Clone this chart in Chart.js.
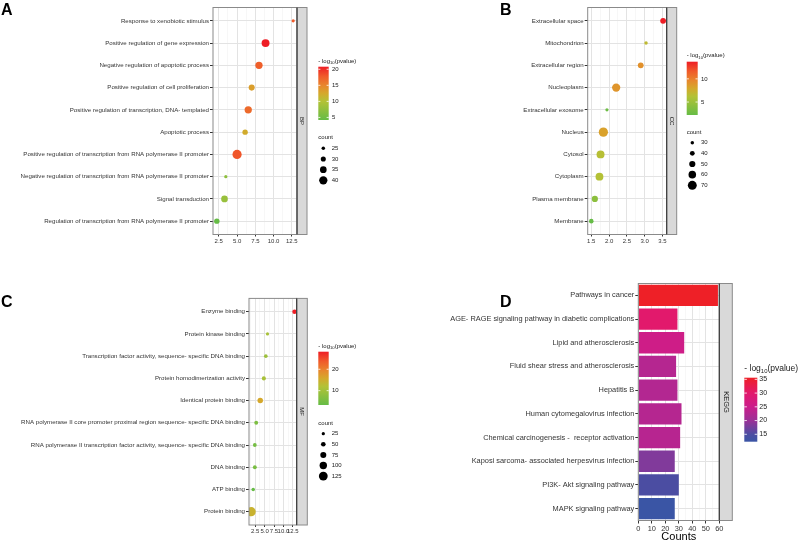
<!DOCTYPE html>
<html>
<head>
<meta charset="utf-8">
<script src="https://cdn.jsdelivr.net/npm/chart.js@4.4.1/dist/chart.umd.min.js"></script>
<style>
html, body { margin: 0; padding: 0; background: #fff; }
#wrap { position: relative; width: 800px; height: 541px; }
canvas { position: absolute; }
</style>
</head>
<body>
<div id="wrap">
  <canvas id="cA" width="400" height="270" style="left:0;top:0"></canvas>
  <canvas id="cB" width="400" height="270" style="left:400px;top:0"></canvas>
  <canvas id="cC" width="400" height="271" style="left:0;top:270px"></canvas>
  <canvas id="cD" width="400" height="271" style="left:400px;top:270px"></canvas>
</div>
<script>
// ============================================
// Data
// ============================================
// A - GO biological process
const bpTerms = [
    'Response to xenobiotic stimulus',
    'Positive regulation of gene expression',
    'Negative regulation of apoptotic process',
    'Positive regulation of cell proliferation',
    'Positive regulation of transcription, DNA- templated',
    'Apoptotic process',
    'Positive regulation of transcription from RNA polymerase II promoter',
    'Negative regulation of transcription from RNA polymerase II promoter',
    'Signal transduction',
    'Regulation of transcription from RNA polymerase II promoter'
];
const bpValue = [12.68, 8.9, 8.0, 7.0, 6.53, 6.1, 5.0, 3.46, 3.28, 2.23];
const bpLogP = [17.8, 20.8, 17.5, 13.2, 16.8, 12.2, 18.0, 7.2, 8.0, 4.2];
const bpCount = [24, 39, 37, 33, 37, 31, 43, 24, 35, 31];
const bpXTicks = [2.5, 5, 7.5, 10, 12.5];
const bpColourBreaks = [5, 10, 15, 20];
const bpCountBreaks = [25, 30, 35, 40];

// B - GO cellular component
const ccTerms = [
    'Extracellular space', 'Mitochondrion', 'Extracellular region', 'Nucleoplasm',
    'Extracellular exosome', 'Nucleus', 'Cytosol', 'Cytoplasm', 'Plasma membrane', 'Membrane'
];
const ccValue = [3.52, 3.04, 2.89, 2.2, 1.94, 1.84, 1.76, 1.73, 1.6, 1.5];
const ccLogP = [13.7, 6.8, 9.1, 8.9, 2.55, 8.3, 6.45, 6.3, 4.2, 2.2];
const ccCount = [47, 30, 47, 65, 28, 72, 63, 62, 50, 38];
const ccXTicks = [1.5, 2.0, 2.5, 3.0, 3.5];
const ccColourBreaks = [5, 10];
const ccCountBreaks = [30, 40, 50, 60, 70];

// C - GO molecular function
const mfTerms = [
    'Enzyme binding',
    'Protein kinase binding',
    'Transcription factor activity, sequence- specific DNA binding',
    'Protein homodimerization activity',
    'Identical protein binding',
    'RNA polymerase II core promoter proximal region sequence- specific DNA binding',
    'RNA polymerase II transcription factor activity, sequence- specific DNA binding',
    'DNA binding',
    'ATP binding',
    'Protein binding'
];
const mfValue = [12.95, 5.77, 5.33, 4.8, 3.84, 2.77, 2.4, 2.4, 1.97, 1.43];
const mfLogP = [28.2, 10.8, 9.5, 10.8, 15.8, 5.8, 5.0, 5.3, 3.3, 14.3];
const mfCount = [47, 24, 32, 40, 65, 36, 35, 36, 30, 132];
const mfXTicks = [2.5, 5, 7.5, 10, 12.5];
const mfColourBreaks = [10, 20];
const mfCountBreaks = [25, 50, 75, 100, 125];

// D - KEGG pathways
const keggTerms = [
    'Pathways in cancer',
    'AGE- RAGE signaling pathway in diabetic complications',
    'Lipid and atherosclerosis',
    'Fluid shear stress and atherosclerosis',
    'Hepatitis B',
    'Human cytomegalovirus infection',
    'Chemical carcinogenesis -  receptor activation',
    'Kaposi sarcoma- associated herpesvirus infection',
    'PI3K- Akt signaling pathway',
    'MAPK signaling pathway'
];
const keggCount = [59, 29, 34, 28, 29, 32, 31, 27, 30, 27];
const keggLogP = [35.6, 30.0, 25.6, 22.8, 22.5, 22.8, 23.0, 18.4, 14.9, 12.3];
const keggXTicks = [0, 10, 20, 30, 40, 50, 60];
const keggColourBreaks = [15, 20, 25, 30, 35];

// ============================================
// Scales
// ============================================
const FONT = '"Liberation Sans", Arial, Helvetica, sans-serif';
const AXIS_TEXT = '#333333';
const LEGEND_TEXT = '#1a1a1a';

const greenRedStops = [[0, '#66bc46'], [0.35, '#b3c236'], [0.5, '#d5a82b'], [0.65, '#e8862d'], [0.82, '#f05a2a'], [1, '#ee1d25']];
const blueRedStops = [[0, '#3a55a5'], [0.116, '#4c4da2'], [0.33, '#9a3197'], [0.545, '#cb1d8b'], [0.76, '#e2196c'], [1, '#ee2027']];

function hexToRgb(h) {
    return [1, 3, 5].map(i => parseInt(h.substr(i, 2), 16));
}

function rampColour(stops, t) {
    t = Math.max(0, Math.min(1, t));
    for (let i = 1; i < stops.length; i++) {
        if (t <= stops[i][0]) {
            const a = hexToRgb(stops[i - 1][1]), b = hexToRgb(stops[i][1]);
            const f = (t - stops[i - 1][0]) / (stops[i][0] - stops[i - 1][0]);
            return 'rgb(' + a.map((v, k) => Math.round(v + (b[k] - v) * f)).join(',') + ')';
        }
    }
    return stops[stops.length - 1][1];
}

function extent(arr) {
    return [Math.min(...arr), Math.max(...arr)];
}

function sizeRadius(v, lim) {
    return 1.6 + 3.0 * Math.max(0, (v - lim[0]) / (lim[1] - lim[0]));
}

// major ticks plus the minor lines half way between them
function gridValues(ticks, step, lo, hi) {
    const out = [];
    for (let v = ticks[0] - step / 2; v <= hi + 1e-9; v += step / 2) {
        if (v >= lo - 1e-9) out.push(+v.toFixed(4));
    }
    return out;
}

// ============================================
// Drawing helpers
// ============================================
function drawLogTitle(c, x, y, size) {
    c.fillStyle = LEGEND_TEXT;
    c.textAlign = 'left';
    c.textBaseline = 'alphabetic';
    c.font = size + 'px ' + FONT;
    c.fillText('- log', x, y);
    let w = c.measureText('- log').width;
    c.font = (size * 0.7) + 'px ' + FONT;
    c.fillText('10', x + w, y + size * 0.25);
    w += c.measureText('10').width;
    c.font = size + 'px ' + FONT;
    c.fillText('(pvalue)', x + w, y);
}

function drawColourbar(c, lg, stops, lim, breaks) {
    const g = c.createLinearGradient(0, lg.y + lg.h, 0, lg.y);
    stops.forEach(s => g.addColorStop(s[0], s[1]));
    c.fillStyle = g;
    c.fillRect(lg.x, lg.y, lg.w, lg.h);
    drawLogTitle(c, lg.x, lg.titleY, lg.titleSize);

    c.font = lg.labelSize + 'px ' + FONT;
    c.textAlign = 'left';
    c.textBaseline = 'middle';
    breaks.forEach(b => {
        const y = lg.y + lg.h - (b - lim[0]) / (lim[1] - lim[0]) * lg.h;
        c.strokeStyle = '#ffffff';
        c.lineWidth = 0.8;
        c.beginPath();
        c.moveTo(lg.x, y); c.lineTo(lg.x + lg.w * 0.2, y);
        c.moveTo(lg.x + lg.w * 0.8, y); c.lineTo(lg.x + lg.w, y);
        c.stroke();
        c.fillStyle = LEGEND_TEXT;
        c.fillText(String(b), lg.labelX, y);
    });
}

function drawSizeLegend(c, lg, lim, breaks) {
    c.fillStyle = LEGEND_TEXT;
    c.font = lg.labelSize + 'px ' + FONT;
    c.textAlign = 'left';
    c.textBaseline = 'alphabetic';
    c.fillText('count', lg.titleX, lg.titleY);
    c.textBaseline = 'middle';
    breaks.forEach((b, i) => {
        const y = lg.y0 + i * lg.dy;
        c.fillStyle = '#000000';
        c.beginPath();
        c.arc(lg.dotX, y, sizeRadius(b, lim), 0, Math.PI * 2);
        c.fill();
        c.fillStyle = LEGEND_TEXT;
        c.fillText(String(b), lg.labelX, y);
    });
}

function drawFrame(c, a, p) {
    // facet strip
    c.fillStyle = '#d9d9d9';
    c.fillRect(a.right, a.top, p.stripW, a.bottom - a.top);
    c.strokeStyle = '#8a8a8a';
    c.lineWidth = 1;
    c.strokeRect(a.right, a.top, p.stripW, a.bottom - a.top);
    // panel border
    c.strokeRect(a.left, a.top, a.right - a.left, a.bottom - a.top);
    c.strokeStyle = '#333333';
    c.beginPath();
    c.moveTo(a.right, a.top);
    c.lineTo(a.right, a.bottom);
    c.stroke();

    c.save();
    c.translate(a.right + p.stripW / 2, (a.top + a.bottom) / 2);
    c.rotate(Math.PI / 2);
    c.fillStyle = '#1a1a1a';
    c.font = p.stripSize + 'px ' + FONT;
    c.textAlign = 'center';
    c.textBaseline = 'middle';
    c.fillText(p.strip, 0, 0);
    c.restore();

    c.fillStyle = '#000000';
    c.font = 'bold 16px ' + FONT;
    c.textAlign = 'left';
    c.textBaseline = 'alphabetic';
    c.fillText(p.letter, p.letterX, p.letterY);
}

function xScale(ticks, step, lo, hi, fmt, fontSize, tickLen, height) {
    const isMajor = v => ticks.some(t => Math.abs(t - v) < 1e-6);
    const vals = gridValues(ticks, step, lo, hi);
    return {
        type: 'linear',
        min: lo,
        max: hi,
        afterBuildTicks: s => { s.ticks = vals.map(v => ({ value: v })); },
        afterFit: s => { s.height = height; },
        ticks: {
            autoSkip: false, maxRotation: 0, minRotation: 0, padding: 1,
            font: { family: FONT, size: fontSize }, color: AXIS_TEXT,
            callback: v => isMajor(v) ? fmt(v) : ''
        },
        grid: {
            color: ctx => (ctx.tick && !isMajor(ctx.tick.value)) ? '#f2f2f2' : '#e3e3e3',
            lineWidth: ctx => (ctx.tick && !isMajor(ctx.tick.value)) ? 0.6 : 1,
            tickLength: tickLen,
            tickColor: ctx => (ctx.tick && !isMajor(ctx.tick.value)) ? 'rgba(0,0,0,0)' : '#333333'
        },
        border: { display: false }
    };
}

// ============================================
// Dot plots (A, B, C)
// ============================================
function bubblePanel(canvasId, p) {
    const canvas = document.getElementById(canvasId);
    const W = canvas.width, H = canvas.height, a = p.area;
    const colLim = extent(p.logp), sizeLim = extent(p.counts), xLim = extent(p.values);
    const pad = (xLim[1] - xLim[0]) * 0.05;
    const n = p.terms.length;

    return new Chart(canvas, {
        type: 'bubble',
        data: {
            datasets: [{
                data: p.values.map((v, i) => ({ x: v, y: i, r: sizeRadius(p.counts[i], sizeLim) })),
                backgroundColor: p.logp.map(v => rampColour(greenRedStops, (v - colLim[0]) / (colLim[1] - colLim[0]))),
                borderWidth: 0,
                hoverRadius: 0,
                clip: 0
            }]
        },
        options: {
            responsive: false,
            animation: false,
            events: [],
            layout: { padding: { left: 0, top: a.top, right: W - a.right, bottom: H - a.bottom - 11 } },
            plugins: { legend: { display: false }, tooltip: { enabled: false } },
            scales: {
                x: xScale(p.xTicks, p.step, xLim[0] - pad, xLim[1] + pad, v => v.toFixed(1), 6, 2, 11),
                y: {
                    type: 'linear',
                    reverse: true,
                    min: -0.6,
                    max: n - 0.4,
                    afterBuildTicks: s => { s.ticks = p.terms.map((t, i) => ({ value: i })); },
                    afterFit: s => { s.width = a.left; },
                    ticks: {
                        autoSkip: false, padding: 1,
                        font: { family: FONT, size: 6.15 }, color: AXIS_TEXT,
                        callback: v => p.terms[v]
                    },
                    grid: { color: '#e3e3e3', lineWidth: 1, tickLength: 3, tickColor: '#333333' },
                    border: { display: false }
                }
            }
        },
        plugins: [{
            id: 'decor' + p.letter,
            afterDraw(chart) {
                const c = chart.ctx;
                c.save();
                drawFrame(c, chart.chartArea, p);
                drawColourbar(c, p.colourbar, greenRedStops, colLim, p.colourBreaks);
                drawSizeLegend(c, p.sizeLegend, sizeLim, p.countBreaks);
                c.restore();
            }
        }]
    });
}

bubblePanel('cA', {
    terms: bpTerms, values: bpValue, logp: bpLogP, counts: bpCount,
    xTicks: bpXTicks, step: 2.5, colourBreaks: bpColourBreaks, countBreaks: bpCountBreaks,
    area: { left: 213, top: 7.5, right: 297, bottom: 234.5 },
    strip: 'BP', stripW: 10, stripSize: 6, letter: 'A', letterX: 1, letterY: 15,
    colourbar: { x: 318.3, y: 66.7, w: 10.4, h: 53.3, titleY: 62.5, titleSize: 6, labelX: 332, labelSize: 6 },
    sizeLegend: { titleX: 318.3, titleY: 139, dotX: 323.3, y0: 148.3, dy: 10.67, labelX: 331.7, labelSize: 6 }
});

bubblePanel('cB', {
    terms: ccTerms, values: ccValue, logp: ccLogP, counts: ccCount,
    xTicks: ccXTicks, step: 0.5, colourBreaks: ccColourBreaks, countBreaks: ccCountBreaks,
    area: { left: 187.7, top: 7.5, right: 266.7, bottom: 234.5 },
    strip: 'CC', stripW: 10, stripSize: 6, letter: 'B', letterX: 100, letterY: 15,
    colourbar: { x: 286.7, y: 61.7, w: 11, h: 53.3, titleY: 57, titleSize: 6, labelX: 301, labelSize: 6 },
    sizeLegend: { titleX: 286.7, titleY: 134, dotX: 292.3, y0: 142.7, dy: 10.65, labelX: 301, labelSize: 6 }
});

bubblePanel('cC', {
    terms: mfTerms, values: mfValue, logp: mfLogP, counts: mfCount,
    xTicks: mfXTicks, step: 2.5, colourBreaks: mfColourBreaks, countBreaks: mfCountBreaks,
    area: { left: 249, top: 28.4, right: 296.7, bottom: 255 },
    strip: 'MF', stripW: 10.6, stripSize: 6, letter: 'C', letterX: 1, letterY: 36.5,
    colourbar: { x: 318.3, y: 81.7, w: 10.4, h: 53.3, titleY: 77.5, titleSize: 6, labelX: 332, labelSize: 6 },
    sizeLegend: { titleX: 318.3, titleY: 154.5, dotX: 323.3, y0: 163.7, dy: 10.6, labelX: 331.7, labelSize: 6 }
});

// ============================================
// KEGG bar chart (D)
// ============================================
(function() {
    const canvas = document.getElementById('cD');
    const W = canvas.width, H = canvas.height;
    const area = { left: 238.3, top: 13.5, right: 319.3, bottom: 250.5 };
    const colLim = extent(keggLogP);
    const p = { strip: 'KEGG', stripW: 13, stripSize: 7.5, letter: 'D', letterX: 100, letterY: 36.5 };
    const bar = { x: 344.3, y: 107.7, w: 13, h: 64, titleY: 101, titleSize: 8.5, labelX: 359.3, labelSize: 7 };

    new Chart(canvas, {
        type: 'bar',
        data: {
            labels: keggTerms,
            datasets: [{
                data: keggCount,
                backgroundColor: keggLogP.map(v => rampColour(blueRedStops, (v - colLim[0]) / (colLim[1] - colLim[0]))),
                borderWidth: 0,
                barPercentage: 0.9,
                categoryPercentage: 1
            }]
        },
        options: {
            indexAxis: 'y',
            responsive: false,
            animation: false,
            events: [],
            layout: { padding: { left: 0, top: area.top, right: W - area.right, bottom: H - area.bottom - 13 } },
            plugins: { legend: { display: false }, tooltip: { enabled: false } },
            scales: {
                x: xScale(keggXTicks, 10, 0, 60, v => String(v), 7.4, 3, 13),
                y: {
                    type: 'category',
                    offset: true,
                    afterFit: s => { s.width = area.left; },
                    ticks: { autoSkip: false, padding: 1, font: { family: FONT, size: 7.4 }, color: AXIS_TEXT },
                    grid: { offset: false, color: '#e3e3e3', lineWidth: 1, tickLength: 3, tickColor: '#333333' },
                    border: { display: false }
                }
            }
        },
        plugins: [{
            id: 'decorD',
            afterDraw(chart) {
                const c = chart.ctx, a = chart.chartArea;
                c.save();
                drawFrame(c, a, p);
                drawColourbar(c, bar, blueRedStops, colLim, keggColourBreaks);
                c.fillStyle = '#000000';
                c.font = '11px ' + FONT;
                c.textAlign = 'center';
                c.textBaseline = 'alphabetic';
                c.fillText('Counts', (a.left + a.right) / 2, 270);
                c.restore();
            }
        }]
    });
})();
</script>
</body>
</html>
